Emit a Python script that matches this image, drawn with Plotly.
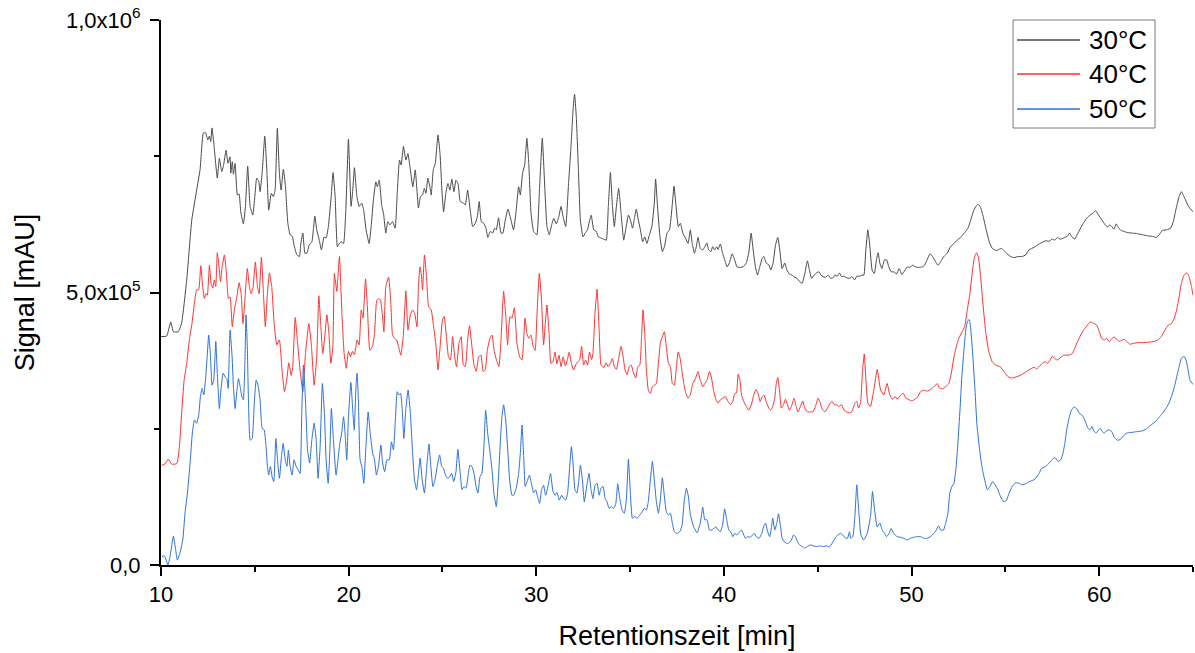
import plotly.graph_objects as go

# ---------------- data (x: minutes, y: signal in thousands of mAU) ----------------
series_names = ["30°C", "40°C", "50°C"]

x30 = [10.0, 10.3, 10.52, 10.66, 10.92, 11.1, 11.37, 11.64, 11.9, 12.08, 12.26, 12.38, 12.49, 12.58, 12.65, 12.72,
       12.83, 13.0, 13.11, 13.24, 13.32, 13.47, 13.57, 13.68, 13.72, 13.8, 13.86, 13.95, 14.07, 14.16, 14.25, 14.39,
       14.5, 14.62, 14.75, 14.89, 15.0, 15.1, 15.21, 15.28, 15.39, 15.53, 15.64, 15.74, 15.88, 15.99, 16.08, 16.2,
       16.31, 16.4, 16.52, 16.63, 16.76, 16.88, 17.0, 17.09, 17.24, 17.38, 17.45, 17.56, 17.67, 17.77, 17.9, 18.04,
       18.2, 18.3, 18.43, 18.55, 18.69, 18.8, 18.92, 19.07, 19.17, 19.28, 19.4, 19.5, 19.6, 19.73, 19.85, 19.99,
       20.13, 20.22, 20.31, 20.44, 20.56, 20.7, 20.8, 20.93, 21.09, 21.2, 21.32, 21.45, 21.53, 21.63, 21.77, 21.86,
       21.98, 22.09, 22.2, 22.34, 22.48, 22.59, 22.71, 22.8, 22.92, 23.05, 23.16, 23.29, 23.42, 23.55, 23.64, 23.72,
       23.83, 23.94, 24.03, 24.12, 24.22, 24.33, 24.4, 24.51, 24.62, 24.76, 24.87, 24.97, 25.06, 25.18, 25.29, 25.4,
       25.5, 25.61, 25.72, 25.83, 25.95, 26.11, 26.22, 26.34, 26.48, 26.61, 26.75, 26.86, 26.96, 27.07, 27.2, 27.32,
       27.42, 27.55, 27.68, 27.78, 27.87, 27.99, 28.12, 28.22, 28.35, 28.49, 28.61, 28.79, 28.93, 29.06, 29.15, 29.27,
       29.38, 29.5, 29.6, 29.72, 29.86, 30.03, 30.17, 30.32, 30.46, 30.57, 30.69, 30.82, 30.93, 31.07, 31.2, 31.32,
       31.43, 31.57, 31.71, 31.85, 31.96, 32.04, 32.13, 32.24, 32.35, 32.49, 32.61, 32.73, 32.8, 32.93, 33.06, 33.2,
       33.31, 33.45, 33.59, 33.73, 33.84, 33.95, 34.06, 34.16, 34.27, 34.39, 34.52, 34.66, 34.78, 34.91, 35.02, 35.13,
       35.23, 35.33, 35.44, 35.55, 35.67, 35.78, 35.9, 36.03, 36.16, 36.29, 36.36, 36.45, 36.58, 36.72, 36.83, 36.97,
       37.1, 37.24, 37.34, 37.45, 37.57, 37.68, 37.81, 37.95, 38.09, 38.21, 38.31, 38.43, 38.53, 38.62, 38.74, 38.87,
       38.98, 39.09, 39.19, 39.31, 39.4, 39.51, 39.61, 39.69, 39.81, 39.93, 40.04, 40.17, 40.29, 40.44, 40.57, 40.7,
       40.88, 41.06, 41.19, 41.32, 41.45, 41.56, 41.68, 41.79, 41.91, 42.04, 42.14, 42.25, 42.39, 42.5, 42.62, 42.75,
       42.87, 42.98, 43.1, 43.24, 43.36, 43.49, 43.63, 43.78, 43.9, 44.03, 44.17, 44.32, 44.45, 44.56, 44.67, 44.81,
       44.94, 45.06, 45.17, 45.29, 45.41, 45.56, 45.68, 45.81, 45.92, 46.04, 46.16, 46.27, 46.4, 46.54, 46.69, 46.83,
       46.96, 47.09, 47.23, 47.37, 47.46, 47.56, 47.67, 47.78, 47.9, 48.02, 48.13, 48.22, 48.31, 48.42, 48.56, 48.67,
       48.79, 48.91, 49.05, 49.2, 49.34, 49.48, 49.63, 49.77, 49.92, 50.04, 50.21, 50.39, 50.57, 50.69, 50.84, 50.98,
       51.12, 51.27, 51.41, 51.56, 51.72, 51.9, 52.08, 52.26, 52.43, 52.61, 52.83, 53.01, 53.18, 53.32, 53.45, 53.56,
       53.68, 53.82, 53.98, 54.14, 54.3, 54.48, 54.6, 54.78, 54.92, 55.1, 55.28, 55.46, 55.68, 55.9, 56.08, 56.26,
       56.53, 56.8, 56.97, 57.15, 57.33, 57.5, 57.63, 57.77, 57.9, 58.04, 58.17, 58.3, 58.42, 58.53, 58.69, 58.87,
       59.1, 59.33, 59.51, 59.69, 59.81, 59.93, 60.08, 60.26, 60.44, 60.56, 60.67, 60.79, 60.9, 61.01, 61.15, 61.33,
       61.5, 61.77, 62.04, 62.3, 62.57, 62.84, 63.05, 63.19, 63.37, 63.6, 63.81, 63.95, 64.08, 64.26, 64.38, 64.56,
       64.76, 65.0]
y30 = [419, 420, 446, 428, 428, 444, 523, 633, 688, 725, 793, 793, 780, 787, 777, 802,
       768, 710, 746, 722, 731, 761, 737, 749, 719, 740, 717, 737, 679, 681, 648, 626,
       658, 732, 658, 642, 676, 710, 704, 685, 719, 787, 725, 651, 682, 676, 688, 801,
       719, 688, 726, 696, 627, 606, 603, 587, 569, 566, 589, 609, 572, 572, 587, 593,
       640, 615, 597, 578, 602, 600, 621, 676, 720, 676, 584, 590, 593, 590, 651, 781,
       658, 688, 729, 676, 658, 664, 651, 615, 590, 621, 670, 703, 694, 706, 658, 645,
       609, 630, 624, 630, 618, 682, 743, 734, 768, 743, 755, 725, 694, 725, 688, 655,
       676, 679, 691, 682, 710, 694, 679, 725, 737, 789, 755, 688, 648, 682, 700, 688,
       708, 685, 706, 700, 667, 664, 661, 688, 651, 621, 627, 639, 667, 630, 627, 618,
       601, 612, 609, 618, 615, 637, 609, 609, 633, 653, 639, 615, 651, 694, 679, 719,
       734, 783, 737, 645, 612, 606, 688, 783, 688, 621, 606, 624, 636, 626, 639, 658,
       639, 621, 694, 768, 835, 864, 824, 731, 633, 602, 609, 615, 626, 642, 615, 612,
       602, 600, 598, 596, 658, 720, 658, 621, 658, 691, 645, 596, 618, 642, 633, 618,
       636, 653, 633, 615, 593, 602, 590, 606, 621, 664, 708, 664, 606, 575, 584, 609,
       615, 658, 695, 658, 621, 627, 609, 600, 590, 615, 590, 572, 584, 601, 581, 578,
       584, 591, 578, 575, 584, 578, 584, 579, 589, 572, 560, 547, 554, 571, 560, 547,
       546, 548, 554, 572, 609, 578, 547, 532, 547, 563, 566, 554, 551, 541, 554, 587,
       601, 578, 544, 554, 541, 534, 532, 528, 526, 520, 517, 536, 558, 541, 526, 532,
       536, 538, 532, 529, 528, 532, 526, 527, 532, 530, 536, 529, 530, 527, 526, 529,
       523, 530, 530, 532, 532, 576, 615, 584, 541, 535, 560, 573, 554, 544, 560, 560,
       547, 538, 538, 534, 544, 533, 540, 547, 546, 550, 547, 546, 547, 550, 561, 571,
       566, 557, 550, 557, 566, 572, 584, 590, 596, 601, 610, 618, 636, 651, 659, 662,
       656, 639, 615, 593, 581, 577, 578, 581, 577, 571, 566, 564, 566, 566, 569, 578,
       583, 589, 592, 595, 594, 598, 596, 601, 598, 599, 601, 603, 609, 603, 598, 609,
       624, 636, 642, 646, 650, 644, 636, 627, 620, 624, 621, 616, 626, 620, 614, 612,
       610, 609, 608, 606, 604, 603, 601, 606, 614, 615, 618, 630, 651, 676, 685, 673,
       658, 648]

x40 = [10.04, 10.2, 10.39, 10.57, 10.84, 10.98, 11.1, 11.23, 11.37, 11.51, 11.65, 11.8, 11.9, 12.01, 12.12, 12.22,
       12.31, 12.4, 12.47, 12.58, 12.67, 12.76, 12.84, 12.92, 13.0, 13.09, 13.17, 13.26, 13.38, 13.48, 13.59, 13.68,
       13.8, 13.91, 14.04, 14.16, 14.27, 14.37, 14.48, 14.6, 14.71, 14.8, 14.9, 15.03, 15.14, 15.23, 15.35, 15.46,
       15.56, 15.67, 15.78, 15.9, 16.03, 16.17, 16.31, 16.45, 16.58, 16.7, 16.81, 16.94, 17.02, 17.15, 17.28, 17.41,
       17.56, 17.7, 17.88, 18.02, 18.16, 18.3, 18.41, 18.52, 18.62, 18.73, 18.84, 18.95, 19.05, 19.16, 19.24, 19.37,
       19.51, 19.64, 19.76, 19.87, 19.99, 20.1, 20.2, 20.31, 20.45, 20.56, 20.67, 20.77, 20.9, 21.0, 21.13, 21.27,
       21.38, 21.5, 21.61, 21.7, 21.79, 21.88, 21.98, 22.13, 22.24, 22.34, 22.45, 22.56, 22.66, 22.78, 22.91, 23.05,
       23.16, 23.29, 23.41, 23.52, 23.64, 23.72, 23.8, 23.87, 23.94, 24.04, 24.15, 24.26, 24.4, 24.53, 24.66, 24.76,
       24.89, 25.0, 25.09, 25.21, 25.32, 25.43, 25.54, 25.65, 25.75, 25.88, 26.0, 26.11, 26.22, 26.34, 26.44, 26.57,
       26.68, 26.8, 26.93, 27.05, 27.17, 27.28, 27.39, 27.53, 27.64, 27.76, 27.88, 28.01, 28.12, 28.26, 28.39, 28.47,
       28.6, 28.71, 28.83, 28.97, 29.11, 29.24, 29.4, 29.5, 29.6, 29.72, 29.83, 29.94, 30.04, 30.16, 30.27, 30.39,
       30.48, 30.57, 30.68, 30.78, 30.89, 31.0, 31.1, 31.21, 31.32, 31.43, 31.55, 31.66, 31.76, 31.87, 31.99, 32.1,
       32.21, 32.31, 32.42, 32.52, 32.63, 32.74, 32.84, 32.95, 33.02, 33.13, 33.24, 33.35, 33.45, 33.59, 33.72, 33.83,
       33.95, 34.05, 34.16, 34.27, 34.39, 34.52, 34.63, 34.73, 34.84, 34.95, 35.06, 35.16, 35.3, 35.41, 35.52, 35.61,
       35.69, 35.78, 35.87, 35.97, 36.08, 36.19, 36.29, 36.4, 36.51, 36.61, 36.72, 36.83, 36.93, 37.04, 37.15, 37.25,
       37.36, 37.47, 37.56, 37.65, 37.76, 37.86, 37.97, 38.09, 38.21, 38.34, 38.48, 38.62, 38.74, 38.87, 38.98, 39.1,
       39.23, 39.33, 39.46, 39.58, 39.69, 39.81, 39.93, 40.08, 40.22, 40.35, 40.47, 40.58, 40.67, 40.76, 40.85, 40.94,
       41.06, 41.19, 41.32, 41.46, 41.59, 41.71, 41.82, 41.93, 42.04, 42.14, 42.25, 42.39, 42.5, 42.6, 42.71, 42.78,
       42.87, 42.96, 43.06, 43.17, 43.28, 43.39, 43.49, 43.6, 43.74, 43.85, 43.95, 44.08, 44.2, 44.31, 44.45, 44.6,
       44.74, 44.88, 45.02, 45.13, 45.24, 45.38, 45.52, 45.66, 45.77, 45.88, 45.99, 46.13, 46.27, 46.4, 46.54, 46.69,
       46.83, 46.98, 47.09, 47.17, 47.28, 47.39, 47.48, 47.56, 47.67, 47.81, 47.99, 48.17, 48.35, 48.52, 48.7, 48.84,
       48.99, 49.13, 49.24, 49.38, 49.56, 49.7, 49.84, 49.99, 50.12, 50.3, 50.48, 50.66, 50.84, 51.01, 51.19, 51.37,
       51.48, 51.64, 51.81, 51.99, 52.12, 52.26, 52.41, 52.52, 52.7, 52.83, 52.97, 53.11, 53.25, 53.36, 53.47, 53.57,
       53.68, 53.82, 53.96, 54.12, 54.3, 54.48, 54.75, 54.92, 55.1, 55.28, 55.46, 55.73, 55.99, 56.26, 56.53, 56.67,
       56.8, 56.97, 57.12, 57.24, 57.38, 57.5, 57.63, 57.77, 57.95, 58.12, 58.39, 58.57, 58.69, 58.84, 59.02, 59.19,
       59.37, 59.51, 59.69, 59.87, 60.01, 60.13, 60.26, 60.4, 60.52, 60.65, 60.79, 60.93, 61.06, 61.19, 61.33, 61.47,
       61.64, 61.86, 62.12, 62.39, 62.66, 62.92, 63.14, 63.31, 63.5, 63.68, 63.85, 63.99, 64.13, 64.26, 64.38, 64.52,
       64.67, 64.79, 64.92, 65.0]
y40 = [183, 185, 194, 185, 186, 217, 278, 339, 370, 413, 443, 486, 505, 505, 549, 511,
       489, 498, 495, 550, 517, 508, 523, 511, 573, 548, 520, 548, 569, 538, 489, 492,
       437, 468, 492, 518, 498, 443, 492, 544, 511, 498, 508, 556, 511, 498, 565, 498,
       437, 498, 536, 511, 443, 404, 413, 358, 318, 339, 371, 348, 364, 454, 407, 358,
       318, 388, 443, 401, 330, 382, 494, 437, 388, 419, 459, 425, 370, 401, 535, 502,
       566, 462, 388, 361, 392, 382, 392, 386, 413, 404, 468, 453, 525, 474, 394, 401,
       425, 486, 489, 486, 462, 428, 511, 528, 486, 422, 416, 413, 401, 385, 419, 503,
       431, 459, 468, 462, 437, 511, 547, 535, 505, 569, 529, 474, 468, 437, 401, 358,
       407, 450, 456, 419, 382, 376, 419, 382, 364, 407, 419, 367, 364, 413, 439, 401,
       367, 355, 382, 385, 355, 358, 394, 416, 422, 392, 376, 364, 413, 502, 450, 404,
       456, 453, 472, 407, 382, 376, 453, 425, 416, 422, 401, 394, 462, 535, 492, 404,
       443, 477, 425, 370, 373, 391, 369, 385, 364, 382, 365, 377, 391, 370, 358, 367,
       373, 376, 401, 367, 376, 367, 391, 377, 388, 462, 506, 431, 367, 362, 371, 364,
       370, 379, 364, 359, 379, 401, 382, 358, 349, 364, 367, 355, 343, 364, 367, 419,
       468, 425, 358, 321, 315, 327, 330, 333, 370, 407, 419, 428, 401, 370, 364, 333,
       330, 364, 391, 382, 358, 333, 315, 306, 312, 333, 342, 355, 339, 327, 333, 339,
       355, 345, 318, 303, 297, 303, 306, 309, 300, 294, 300, 315, 316, 350, 339, 312,
       300, 291, 284, 294, 312, 322, 315, 300, 309, 312, 300, 288, 284, 291, 306, 330,
       344, 322, 288, 294, 304, 294, 284, 291, 306, 291, 281, 291, 301, 288, 281, 281,
       281, 291, 306, 298, 286, 281, 288, 297, 300, 294, 294, 291, 294, 284, 281, 279,
       282, 297, 300, 288, 297, 358, 387, 345, 297, 291, 321, 359, 321, 312, 333, 312,
       304, 309, 304, 310, 315, 306, 304, 301, 303, 307, 318, 321, 319, 322, 327, 333,
       325, 323, 327, 333, 352, 382, 404, 416, 428, 437, 468, 498, 541, 566, 573, 563,
       529, 474, 425, 391, 373, 367, 363, 355, 347, 343, 344, 347, 352, 358, 363, 360,
       364, 370, 373, 370, 376, 383, 379, 376, 381, 385, 385, 388, 397, 410, 422, 432,
       440, 446, 444, 440, 428, 416, 413, 416, 410, 414, 419, 414, 410, 412, 414, 410,
       405, 407, 408, 408, 409, 410, 413, 419, 431, 440, 443, 452, 468, 492, 517, 532,
       536, 529, 511, 495]

x50 = [10.04, 10.17, 10.28, 10.37, 10.48, 10.66, 10.78, 10.87, 11.01, 11.16, 11.28, 11.41, 11.55, 11.67, 11.78, 11.9,
       12.01, 12.1, 12.19, 12.28, 12.37, 12.46, 12.54, 12.63, 12.72, 12.81, 12.92, 13.0, 13.11, 13.2, 13.31, 13.42,
       13.51, 13.58, 13.68, 13.79, 13.86, 13.95, 14.04, 14.13, 14.22, 14.31, 14.39, 14.47, 14.53, 14.6, 14.66, 14.75,
       14.86, 14.96, 15.07, 15.17, 15.28, 15.39, 15.5, 15.6, 15.67, 15.74, 15.83, 15.92, 16.01, 16.12, 16.23, 16.31,
       16.42, 16.51, 16.62, 16.71, 16.79, 16.88, 16.99, 17.09, 17.2, 17.3, 17.41, 17.5, 17.59, 17.7, 17.81, 17.92,
       18.04, 18.16, 18.27, 18.37, 18.48, 18.6, 18.71, 18.8, 18.91, 19.0, 19.08, 19.19, 19.33, 19.53, 19.63, 19.73,
       19.81, 19.9, 19.99, 20.12, 20.23, 20.3, 20.39, 20.45, 20.52, 20.61, 20.7, 20.81, 20.92, 21.04, 21.15, 21.28,
       21.38, 21.48, 21.59, 21.72, 21.81, 21.92, 22.04, 22.17, 22.28, 22.39, 22.48, 22.59, 22.68, 22.77, 22.86, 22.94,
       23.05, 23.17, 23.29, 23.41, 23.51, 23.62, 23.72, 23.81, 23.92, 24.04, 24.15, 24.28, 24.38, 24.49, 24.6, 24.72,
       24.85, 24.96, 25.05, 25.16, 25.28, 25.39, 25.49, 25.6, 25.72, 25.82, 25.94, 26.04, 26.15, 26.26, 26.36, 26.46,
       26.57, 26.68, 26.79, 26.89, 27.0, 27.1, 27.21, 27.3, 27.41, 27.52, 27.64, 27.74, 27.87, 27.98, 28.08, 28.17,
       28.26, 28.37, 28.48, 28.58, 28.7, 28.79, 28.93, 29.06, 29.15, 29.24, 29.33, 29.41, 29.54, 29.64, 29.74, 29.86,
       29.97, 30.07, 30.18, 30.28, 30.39, 30.5, 30.64, 30.76, 30.89, 31.0, 31.1, 31.23, 31.35, 31.46, 31.57, 31.67,
       31.78, 31.87, 31.96, 32.06, 32.17, 32.26, 32.35, 32.46, 32.56, 32.7, 32.81, 32.92, 33.02, 33.13, 33.24, 33.35,
       33.45, 33.56, 33.67, 33.77, 33.88, 33.99, 34.13, 34.24, 34.34, 34.45, 34.57, 34.69, 34.8, 34.91, 35.02, 35.12,
       35.23, 35.38, 35.52, 35.65, 35.76, 35.87, 35.97, 36.08, 36.19, 36.29, 36.4, 36.51, 36.61, 36.72, 36.83, 36.93,
       37.04, 37.15, 37.25, 37.36, 37.5, 37.65, 37.77, 37.89, 38.0, 38.11, 38.21, 38.39, 38.57, 38.74, 38.87, 38.98,
       39.1, 39.23, 39.33, 39.46, 39.58, 39.69, 39.81, 39.93, 40.04, 40.15, 40.26, 40.37, 40.47, 40.58, 40.7, 40.83,
       40.94, 41.06, 41.15, 41.26, 41.37, 41.48, 41.61, 41.73, 41.88, 42.02, 42.11, 42.22, 42.33, 42.44, 42.54, 42.6,
       42.71, 42.82, 42.91, 43.02, 43.1, 43.21, 43.32, 43.46, 43.6, 43.71, 43.81, 43.92, 44.03, 44.17, 44.31, 44.45,
       44.6, 44.77, 44.95, 45.13, 45.3, 45.48, 45.62, 45.77, 45.92, 46.06, 46.2, 46.34, 46.48, 46.59, 46.69, 46.76,
       46.87, 46.98, 47.08, 47.19, 47.3, 47.45, 47.64, 47.81, 47.92, 48.03, 48.17, 48.31, 48.44, 48.56, 48.67, 48.81,
       48.91, 49.05, 49.23, 49.41, 49.58, 49.76, 49.94, 50.12, 50.3, 50.48, 50.66, 50.84, 51.01, 51.19, 51.32, 51.44,
       51.56, 51.7, 51.82, 51.94, 52.04, 52.15, 52.26, 52.36, 52.47, 52.58, 52.68, 52.79, 52.9, 52.99, 53.08, 53.16,
       53.27, 53.38, 53.48, 53.61, 53.75, 53.9, 54.04, 54.18, 54.32, 54.46, 54.6, 54.75, 54.92, 55.06, 55.2, 55.36,
       55.55, 55.73, 55.9, 56.08, 56.26, 56.44, 56.61, 56.8, 56.92, 57.1, 57.28, 57.42, 57.56, 57.69, 57.81, 57.95,
       58.05, 58.17, 58.27, 58.39, 58.52, 58.66, 58.8, 58.95, 59.09, 59.19, 59.3, 59.4, 59.51, 59.62, 59.73, 59.84,
       59.95, 60.06, 60.16, 60.27, 60.42, 60.52, 60.67, 60.79, 60.97, 61.12, 61.26, 61.47, 61.65, 61.88, 62.07, 62.3,
       62.48, 62.66, 62.84, 63.01, 63.19, 63.37, 63.55, 63.72, 63.85, 63.99, 64.13, 64.26, 64.38, 64.52, 64.63, 64.74,
       64.84, 64.97, 65.0]
y50 = [15, 17, 9, 0, 15, 53, 28, 9, 22, 46, 95, 132, 187, 242, 266, 260,
       275, 309, 324, 312, 339, 382, 422, 388, 330, 339, 410, 351, 287, 324, 352, 345,
       342, 324, 431, 382, 327, 287, 318, 342, 327, 309, 303, 370, 459, 401, 303, 229,
       232, 290, 339, 330, 303, 251, 248, 217, 181, 165, 181, 162, 153, 232, 184, 159,
       199, 223, 193, 181, 211, 181, 165, 193, 181, 175, 168, 278, 367, 303, 211, 187,
       230, 260, 230, 159, 217, 333, 278, 193, 150, 211, 287, 230, 165, 223, 242, 272,
       242, 193, 272, 335, 278, 248, 327, 352, 303, 193, 181, 150, 217, 281, 242, 205,
       193, 165, 181, 220, 187, 171, 193, 193, 226, 211, 260, 318, 312, 315, 284, 232,
       287, 321, 278, 205, 156, 138, 168, 196, 156, 132, 175, 222, 181, 144, 156, 181,
       202, 181, 178, 165, 159, 162, 168, 153, 171, 212, 171, 138, 144, 141, 162, 183,
       181, 168, 144, 132, 162, 168, 217, 284, 242, 211, 175, 132, 107, 156, 223, 272,
       294, 266, 211, 156, 128, 128, 141, 168, 205, 257, 199, 144, 156, 165, 150, 132,
       138, 125, 113, 138, 146, 128, 147, 168, 135, 128, 133, 119, 128, 122, 119, 132,
       180, 217, 187, 138, 132, 153, 183, 156, 116, 147, 168, 138, 122, 146, 150, 128,
       141, 144, 122, 116, 104, 107, 104, 113, 149, 122, 101, 95, 119, 194, 128, 86,
       89, 86, 92, 98, 104, 101, 116, 156, 190, 156, 116, 95, 119, 160, 125, 98,
       92, 95, 77, 61, 58, 61, 73, 119, 141, 125, 92, 70, 59, 77, 106, 83,
       83, 64, 64, 67, 70, 64, 61, 73, 103, 83, 64, 61, 52, 58, 55, 61,
       64, 55, 49, 52, 51, 53, 58, 52, 49, 58, 70, 77, 61, 52, 70, 86,
       64, 77, 94, 70, 49, 43, 40, 40, 46, 55, 52, 43, 37, 34, 31, 34,
       37, 35, 34, 35, 34, 35, 33, 40, 49, 55, 58, 55, 49, 49, 61, 49,
       52, 89, 147, 98, 55, 46, 58, 89, 135, 101, 70, 77, 64, 58, 52, 58,
       67, 58, 52, 51, 49, 46, 49, 51, 52, 52, 49, 49, 52, 58, 64, 72,
       64, 64, 77, 95, 132, 144, 150, 175, 223, 284, 345, 394, 434, 448, 450, 431,
       382, 321, 260, 217, 180, 156, 138, 144, 153, 147, 138, 125, 116, 119, 132, 144,
       151, 150, 147, 149, 153, 155, 159, 168, 177, 180, 185, 190, 196, 196, 190, 193,
       202, 223, 248, 269, 284, 290, 287, 278, 275, 269, 260, 251, 248, 254, 245, 242,
       247, 251, 245, 242, 247, 248, 245, 235, 229, 230, 236, 242, 243, 244, 245, 246,
       249, 254, 259, 263, 271, 278, 287, 297, 309, 324, 345, 364, 379, 383, 376, 358,
       339, 333, 331]

y_tick_vals = [0, 500, 1000]
y_tick_text = ["0,0", "5,0x10<sup>5</sup>", "1,0x10<sup>6</sup>"]
x_title = "Retentionszeit [min]"
y_title = "Signal [mAU]"

colors = ["#4a4a4a", "#ff3030", "#2c6fe0"]
FONT = "Arial, Liberation Sans, sans-serif"

fig = go.Figure()
for name, xs, ys, col in zip(series_names, [x30, x40, x50], [y30, y40, y50], colors):
    fig.add_trace(go.Scatter(
        x=xs, y=ys, mode="lines", name=name, showlegend=False,
        line=dict(color=col, width=1, shape="spline", smoothing=0.4),
        cliponaxis=True,
    ))

# custom legend (box, line samples, labels) in paper coordinates
leg_rows = [0.9633, 0.9009, 0.8367]
shapes = [dict(type="rect", xref="paper", yref="paper", x0=0.8256, x1=0.9632, y0=0.8018, y1=1.0,
               line=dict(color="#7a7a7a", width=1), fillcolor="white", layer="above")]
annotations = []
for name, col, yy in zip(series_names, colors, leg_rows):
    shapes.append(dict(type="line", xref="paper", yref="paper", x0=0.8295, x1=0.8905, y0=yy, y1=yy,
                       line=dict(color=col, width=1.3), layer="above"))
    annotations.append(dict(xref="paper", yref="paper", x=0.8975, y=yy, xanchor="left", yanchor="middle",
                            text=name, showarrow=False, font=dict(family=FONT, size=26, color="black")))

fig.update_layout(
    width=1195, height=653,
    margin=dict(l=161, r=2, t=20, b=88),
    paper_bgcolor="white", plot_bgcolor="white",
    font=dict(family=FONT, color="black"),
    shapes=shapes, annotations=annotations,
    xaxis=dict(
        range=[10, 65], tickmode="linear", tick0=10, dtick=10,
        ticks="outside", ticklen=9, tickwidth=2, tickcolor="black",
        showline=True, linewidth=2, linecolor="black", mirror=False,
        showgrid=False, zeroline=False,
        tickfont=dict(family=FONT, size=22, color="black"),
        minor=dict(dtick=5, tick0=10, ticks="outside", ticklen=5, tickwidth=2, tickcolor="black", showgrid=False),
        title=dict(text=x_title, font=dict(family=FONT, size=27, color="black"), standoff=20),
    ),
    yaxis=dict(
        range=[0, 1000], tickmode="array", tickvals=y_tick_vals, ticktext=y_tick_text,
        ticks="outside", ticklen=9, tickwidth=2, tickcolor="black",
        showline=True, linewidth=2, linecolor="black", mirror=False,
        showgrid=False, zeroline=False,
        ticklabelstandoff=5,
        tickfont=dict(family=FONT, size=22, color="black"),
        minor=dict(tickmode="array", tickvals=[250, 750], ticks="outside", ticklen=5, tickwidth=2,
                   tickcolor="black", showgrid=False),
        title=dict(text=y_title, font=dict(family=FONT, size=27, color="black"), standoff=24),
    ),
)

fig.write_html("out.html")
